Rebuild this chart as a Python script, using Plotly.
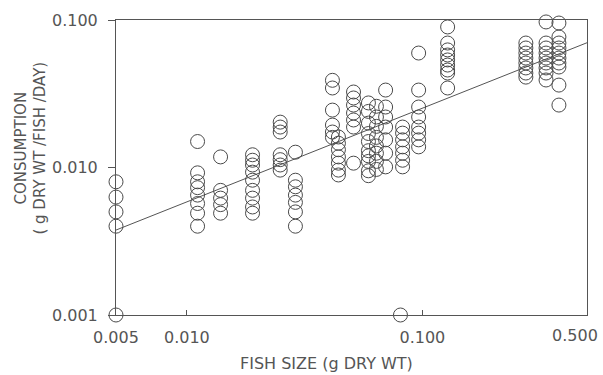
import numpy as np
import plotly.graph_objects as go

# Fish size groups (g dry wt) and the consumption values observed at each
size_groups = [0.005, 0.0111, 0.0139, 0.019, 0.0249, 0.0289, 0.0415, 0.044,
               0.051, 0.059, 0.0638, 0.0698, 0.0807, 0.0824, 0.0964, 0.128,
               0.275, 0.335, 0.38]
consumption_groups = [
    [0.008, 0.0063, 0.005, 0.004, 0.001],
    [0.015, 0.0092, 0.008, 0.0073, 0.0065, 0.0057, 0.0049, 0.004],
    [0.0118, 0.007, 0.0062, 0.0056, 0.0049],
    [0.0122, 0.0112, 0.0104, 0.0093, 0.0082, 0.007, 0.0062, 0.0054, 0.0049],
    [0.0203, 0.0188, 0.0174, 0.0122, 0.0113, 0.0104, 0.0096],
    [0.0127, 0.0082, 0.0074, 0.0065, 0.0058, 0.005, 0.004],
    [0.039, 0.0346, 0.0245, 0.0194, 0.0174, 0.016],
    [0.0161, 0.0146, 0.0132, 0.0118, 0.0107, 0.0096, 0.0089],
    [0.0325, 0.0296, 0.0265, 0.0234, 0.021, 0.0188, 0.0107],
    [0.0274, 0.024, 0.020, 0.017, 0.015, 0.013, 0.012, 0.011, 0.0095, 0.0088],
    [0.026, 0.022, 0.019, 0.016, 0.014, 0.0125, 0.011, 0.0097],
    [0.0335, 0.0257, 0.022, 0.0188, 0.0154, 0.0125, 0.0101],
    [0.001],
    [0.0188, 0.0171, 0.0154, 0.0138, 0.0125, 0.0112, 0.0101],
    [0.0597, 0.0335, 0.0257, 0.022, 0.0188, 0.0171, 0.0154, 0.0138],
    [0.0897, 0.0698, 0.0627, 0.0579, 0.0536, 0.0495, 0.0458, 0.0437, 0.0346],
    [0.0698, 0.0646, 0.0597, 0.0552, 0.0511, 0.0473, 0.0437, 0.041],
    [0.097, 0.0698, 0.0646, 0.0597, 0.0552, 0.0511, 0.0473, 0.0437, 0.0392],
    [0.0954, 0.0767, 0.0698, 0.0646, 0.0597, 0.0552, 0.0511, 0.048, 0.0362, 0.0265],
]

# Regression: consumption = a * size^b
fit_a = 0.1089
fit_b = 0.635
fit_x = [0.005, 0.5]

x_ticks = [0.005, 0.01, 0.1, 0.5]
x_ticktext = ["0.005", "0.010", "0.100", ""]
y_ticks = [0.001, 0.01, 0.1]
y_ticktext = ["0.001", "0.010", "0.100"]

xs = [s for s, vals in zip(size_groups, consumption_groups) for _ in vals]
ys = [v for vals in consumption_groups for v in vals]
fit_y = [fit_a * x ** fit_b for x in fit_x]

ink = "#4a4a4a"
txt = "#555555"
font_family = "DejaVu Sans"

fig = go.Figure()
fig.add_trace(go.Scatter(x=fit_x, y=fit_y, mode="lines",
                         line=dict(color="#555555", width=1),
                         showlegend=False, hoverinfo="skip"))
fig.add_trace(go.Scatter(x=xs, y=ys, mode="markers",
                         marker=dict(symbol="circle-open", size=14,
                                     color=ink, line=dict(width=1, color=ink)),
                         showlegend=False, cliponaxis=False))

axis_common = dict(type="log", showgrid=False, zeroline=False,
                   showline=True, linecolor="#555555", linewidth=1,
                   mirror=True, tickcolor="#555555", tickwidth=1,
                   tickfont=dict(family=font_family, size=16, color=txt))

fig.update_xaxes(range=[np.log10(0.005), np.log10(0.5)],
                 tickvals=x_ticks, ticktext=x_ticktext,
                 ticks="inside", ticklen=5, ticklabelstandoff=8,
                 **axis_common)
fig.update_yaxes(range=[-3, -1], tickvals=y_ticks, ticktext=y_ticktext,
                 ticks="outside", ticklen=7, ticklabelstandoff=7,
                 **axis_common)

fig.add_annotation(x=np.log10(0.5), xref="x", y=0, yref="paper",
                   text="0.500", showarrow=False, xanchor="center",
                   yanchor="top", xshift=-12, yshift=-9,
                   font=dict(family=font_family, size=16, color=txt))
fig.add_annotation(x=0.446, xref="paper", y=0, yref="paper",
                   text="FISH SIZE (g DRY WT)", showarrow=False,
                   xanchor="center", yanchor="top", yshift=-37,
                   font=dict(family=font_family, size=16, color=txt))
fig.add_annotation(x=-0.18, xref="paper", y=0.565, yref="paper",
                   text="CONSUMPTION<br>( g DRY WT /FISH /DAY)",
                   showarrow=False, textangle=-90, xanchor="center",
                   yanchor="middle",
                   font=dict(family=font_family, size=15, color=txt))

fig.update_layout(width=603, height=375,
                  margin=dict(l=116, r=16, t=20, b=60),
                  paper_bgcolor="white", plot_bgcolor="white")

fig.write_html("out.html")
